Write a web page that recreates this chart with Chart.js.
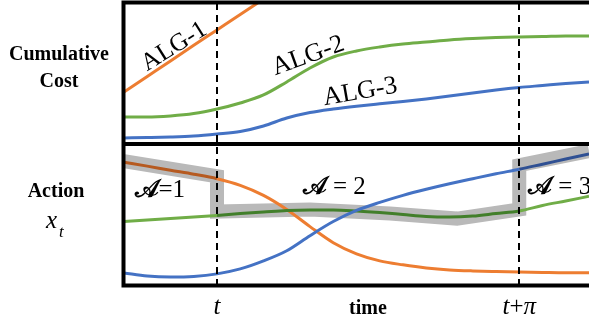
<!DOCTYPE html>
<html>
<head>
<meta charset="utf-8">
<script src="https://cdn.jsdelivr.net/npm/chart.js@4.4.1/dist/chart.umd.min.js"></script>
<style>
  html, body { margin: 0; padding: 0; background: #fff; }
  #wrap { width: 589px; height: 323px; }
</style>
</head>
<body>
<div id="wrap"><canvas id="chart" width="589" height="323"></canvas></div>
<script>
// shared time axis: t sits at 2, t+pi at 8.5
const time = [0, 0.5, 1, 1.5, 2, 2.5, 3, 3.5, 4, 4.5, 5, 5.5, 6, 6.5, 7, 7.5, 8, 8.5, 9, 9.5, 10];
const T_START = 2;
const T_END = 8.5;

// upper panel: cumulative cost
const costAlg1 = [3.69, 4.79, 5.89, 7.0, 8.09, 9.18, 10.28, null, null, null, null, null, null, null, null, null, null, null, null, null, null];
const costAlg2 = [1.91, 1.91, 1.99, 2.16, 2.48, 2.91, 3.48, 4.4, 5.39, 6.17, 6.6, 6.88, 7.09, 7.23, 7.38, 7.48, 7.55, 7.59, 7.62, 7.66, 7.66];
const costAlg3 = [0.43, 0.46, 0.5, 0.57, 0.71, 0.89, 1.28, 1.84, 2.23, 2.48, 2.68, 2.85, 3.01, 3.19, 3.4, 3.62, 3.83, 4.01, 4.15, 4.29, 4.4];

// lower panel: action x_t of each algorithm
const actionAlg1 = [8.71, 8.43, 8.14, 7.86, 7.54, 7.07, 6.36, 5.36, 4.14, 3.0, 2.21, 1.71, 1.43, 1.21, 1.07, 1.0, 0.96, 0.93, 0.89, 0.86, 0.86];
const actionAlg2 = [4.5, 4.61, 4.71, 4.82, 4.93, 5.07, 5.18, 5.29, 5.32, 5.32, 5.25, 5.14, 5.0, 4.86, 4.82, 4.89, 5.07, 5.25, 5.64, 5.96, 6.29];
const actionAlg3 = [0.86, 0.64, 0.57, 0.61, 0.79, 1.14, 1.71, 2.43, 3.5, 4.5, 5.29, 5.86, 6.36, 6.79, 7.18, 7.54, 7.89, 8.21, 8.57, 8.93, 9.29];

// switching path: follows ALG-1, then ALG-2, then ALG-3
const switchTime = [0, 2, 2, 4, 5.72, 7.16, 8.5, 8.5, 10];
const switchLevel = [8.79, 7.71, 5.21, 5.36, 5.07, 4.71, 5.36, 8.5, 9.5];

const ORANGE = '#ed7d31', GREEN = '#70ad47', BLUE = '#4472c4';
const ORANGE_DARK = '#b65a20', GREEN_DARK = '#427f2b', BLUE_DARK = '#2f5093';

const pts = (xs, ys) => xs.map((x, i) => ({ x, y: ys[i] }));

function curve(values, color, axis, extra) {
  return Object.assign({
    data: pts(time, values),
    yAxisID: axis,
    borderColor: color,
    borderWidth: 3,
    pointRadius: 0,
    fill: false,
    cubicInterpolationMode: 'monotone',
    order: 0
  }, extra || {});
}

const SERIF = '"Liberation Serif", "Times New Roman", serif';

const decorations = {
  id: 'decorations',
  afterDatasetsDraw(chart) {
    const { ctx, chartArea: a, scales } = chart;
    const mid = scales.cost.bottom;

    // dashed markers at t and t+pi
    ctx.save();
    ctx.strokeStyle = '#000';
    ctx.lineWidth = 2;
    ctx.setLineDash([7, 5]);
    [T_START, T_END].forEach(v => {
      const px = Math.round(scales.x.getPixelForValue(v));
      ctx.beginPath();
      ctx.moveTo(px, a.top);
      ctx.lineTo(px, a.bottom);
      ctx.stroke();
    });
    ctx.restore();

    // panel frames (open on the right)
    ctx.save();
    ctx.strokeStyle = '#000';
    ctx.lineWidth = 4;
    ctx.beginPath();
    ctx.moveTo(a.left - 0.5, a.top - 0.5);
    ctx.lineTo(a.left - 0.5, a.bottom + 0.5);
    [a.top - 0.5, mid, a.bottom + 0.5].forEach(y => {
      ctx.moveTo(a.left - 2.5, y);
      ctx.lineTo(a.right, y);
    });
    ctx.stroke();
    ctx.restore();
  },
  afterDraw(chart) {
    const { ctx, scales } = chart;
    const X = v => scales.x.getPixelForValue(v);
    const C = v => scales.cost.getPixelForValue(v);
    const A = v => scales.action.getPixelForValue(v);

    ctx.save();
    ctx.fillStyle = '#000';

    const rotated = (text, x, y, deg, font) => {
      ctx.save();
      ctx.translate(x, y);
      ctx.rotate(deg * Math.PI / 180);
      ctx.font = font;
      ctx.textAlign = 'center';
      ctx.textBaseline = 'middle';
      ctx.fillText(text, 0, 0);
      ctx.restore();
    };

    // curve names in the cost panel
    rotated('ALG-1', X(1.08), C(6.9), -32, '25px ' + SERIF);
    rotated('ALG-2', X(3.96), C(6.24), -20, '26px ' + SERIF);
    rotated('ALG-3', X(5.08), C(3.69), -10, '26px ' + SERIF);

    // active algorithm in the action panel; the script A is drawn heavy
    const mark = (rest, x, y, align) => {
      ctx.font = 'bold 25px ' + SERIF;
      const wA = ctx.measureText('\u{1D49C}').width;
      ctx.font = '25px ' + SERIF;
      const wRest = ctx.measureText(rest).width;
      const left = align === 'left' ? x : x - (wA + wRest) / 2;
      ctx.textAlign = 'left';
      ctx.textBaseline = 'middle';
      ctx.font = 'bold 25px ' + SERIF;
      ctx.fillText('\u{1D49C}', left, y);
      ctx.font = '25px ' + SERIF;
      ctx.fillText(rest, left + wA, y);
    };
    mark('=1', X(0.77), A(6.71), 'center');
    mark(' = 2', X(4.52), A(6.93), 'center');
    mark(' = 3', X(8.69), A(6.93), 'left');

    // row titles
    ctx.textBaseline = 'alphabetic';
    ctx.textAlign = 'center';
    ctx.font = 'bold 20px ' + SERIF;
    ctx.fillText('Cumulative', 59, 60);
    ctx.fillText('Cost', 59, 87);
    ctx.fillText('Action', 56, 197);
    ctx.textAlign = 'left';
    ctx.font = 'italic 25px ' + SERIF;
    ctx.fillText('x', 46, 228);
    ctx.font = 'italic 17px ' + SERIF;
    ctx.fillText('t', 59, 237);

    // time axis labels
    ctx.textAlign = 'center';
    ctx.font = 'italic 25px ' + SERIF;
    ctx.fillText('t', X(T_START), 314);

    // t+pi with an upright plus sign
    const parts = [['t', 'italic 25px '], ['+', '25px '], ['\u03C0', 'italic 25px ']];
    let total = 0;
    parts.forEach(([s, f]) => { ctx.font = f + SERIF; total += ctx.measureText(s).width; });
    let cx = X(T_END) - total / 2;
    ctx.textAlign = 'left';
    parts.forEach(([s, f]) => {
      ctx.font = f + SERIF;
      ctx.fillText(s, cx, 314);
      cx += ctx.measureText(s).width;
    });

    ctx.textAlign = 'center';
    ctx.font = 'bold 20px ' + SERIF;
    ctx.fillText('time', 368, 314);
    ctx.restore();
  }
};

new Chart(document.getElementById('chart'), {
  type: 'line',
  data: {
    datasets: [
      curve(costAlg1, ORANGE, 'cost'),
      curve(costAlg2, GREEN, 'cost'),
      curve(costAlg3, BLUE, 'cost'),
      curve(actionAlg3, BLUE, 'action', {
        segment: { borderColor: c => c.p0.parsed.x >= T_END ? BLUE_DARK : undefined }
      }),
      curve(actionAlg2, GREEN, 'action', {
        segment: { borderColor: c => (c.p0.parsed.x >= T_START && c.p1.parsed.x <= T_END) ? GREEN_DARK : undefined }
      }),
      curve(actionAlg1, ORANGE, 'action', {
        segment: { borderColor: c => c.p1.parsed.x <= T_START ? ORANGE_DARK : undefined }
      }),
      {
        data: pts(switchTime, switchLevel),
        yAxisID: 'action',
        borderColor: '#b9b9b9',
        borderWidth: 14,
        borderJoinStyle: 'miter',
        borderCapStyle: 'butt',
        pointRadius: 0,
        tension: 0,
        fill: false,
        order: 1
      }
    ]
  },
  options: {
    responsive: false,
    animation: false,
    devicePixelRatio: 1,
    layout: { padding: { left: 124, right: 0, top: 3, bottom: 38 } },
    plugins: { legend: { display: false }, tooltip: { enabled: false } },
    scales: {
      x: { type: 'linear', min: 0, max: 10, display: false },
      action: { type: 'linear', min: 0, max: 10, display: false, position: 'left', stack: 'panels', stackWeight: 1 },
      cost: { type: 'linear', min: 0, max: 10, display: false, position: 'left', stack: 'panels', stackWeight: 1 }
    }
  },
  plugins: [decorations]
});
</script>
</body>
</html>
